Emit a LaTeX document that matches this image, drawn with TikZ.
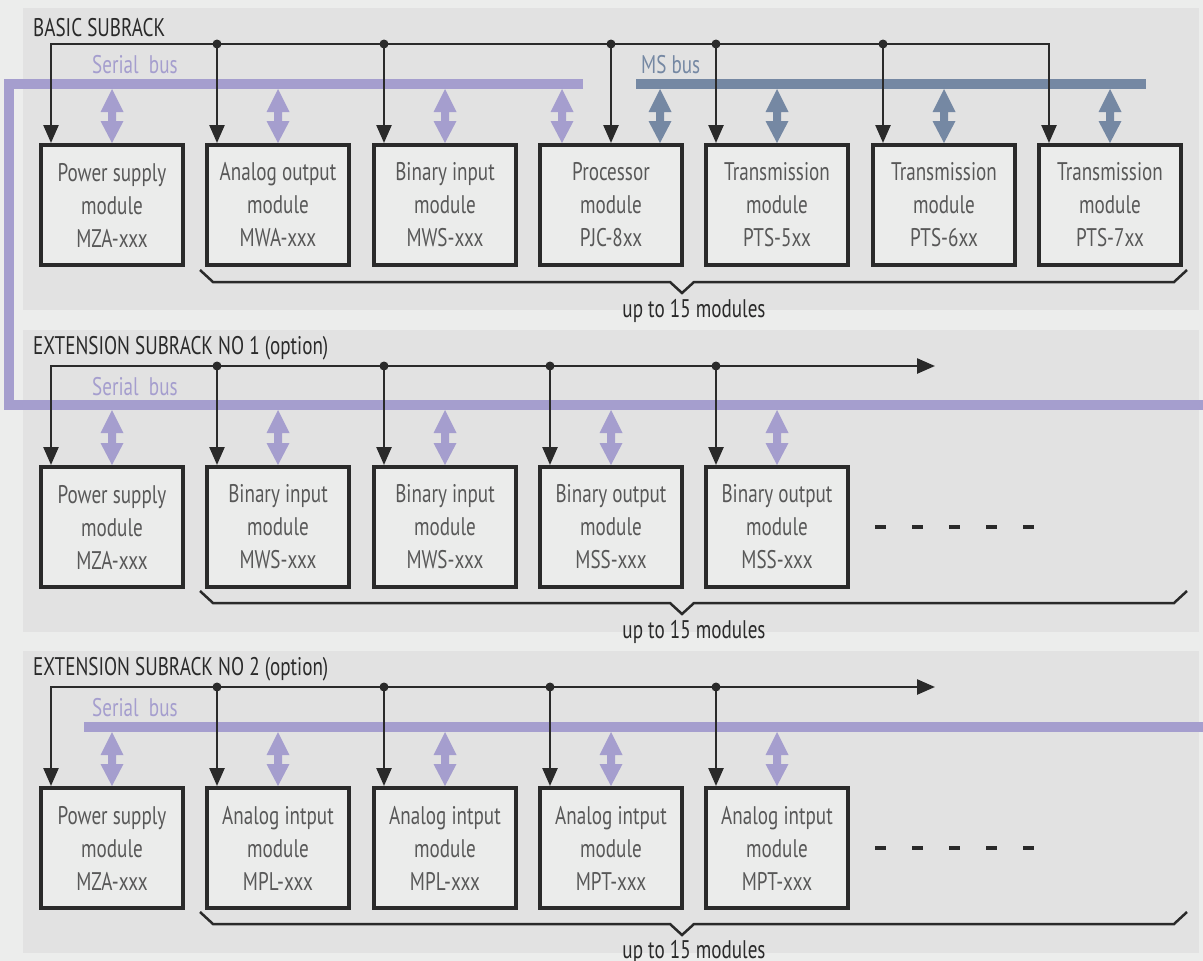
\documentclass[tikz,border=0pt]{standalone}
\usepackage{fontspec}
\setmainfont[FakeStretch=0.75]{PT Sans}
\usetikzlibrary{arrows.meta,calc}
\definecolor{bgc}{HTML}{ECEDEC}
\definecolor{panelc}{HTML}{E2E2E2}
\definecolor{boxc}{HTML}{EBECEB}
\definecolor{ink}{HTML}{2A2A2A}
\definecolor{boxtext}{HTML}{585858}
\definecolor{lav}{HTML}{A59ECE}
\definecolor{slate}{HTML}{7588A3}
\newcommand\modfont{\fontsize{25.5}{33}\selectfont}
\newcommand\dbl[3]{\fill[#3] let \p1=(#1), \p2=(#2) in
  (\x1,\y1) -- (\x1+11.5pt,\y1-23pt) -- (\x1+4pt,\y1-23pt) -- (\x1+4pt,\y2+22pt)
  -- (\x1+11.5pt,\y2+22pt) -- (\x1,\y2) -- (\x1-11.5pt,\y2+22pt) -- (\x1-4pt,\y2+22pt)
  -- (\x1-4pt,\y1-23pt) -- (\x1-11.5pt,\y1-23pt) -- cycle;}
\begin{document}
\begin{tikzpicture}[x=1pt,y=-1pt,
  panel/.style={fill=panelc,draw=none},
  modbox/.style={draw=ink,line width=4pt,fill=boxc,minimum width=142pt,minimum height=120pt,
    inner sep=0pt,align=center,text=boxtext,font=\modfont},
  blk/.style={draw=ink,line width=2.5pt},
  tip/.tip={Triangle[length=18pt,width=15pt]},
  dot/.style={fill=ink},
  bar/.style={line width=10pt},
  brk/.style={draw=ink,line width=2.5pt},
  title/.style={anchor=base west,inner sep=0pt,text=ink,font=\modfont},
  buslabel/.style={anchor=base west,inner sep=0pt,font=\modfont},
  count/.style={anchor=base,inner sep=0pt,text=ink,font=\modfont},
  dashes/.style={draw=ink,line width=4.5pt,dash pattern=on 11pt off 26pt}]
\useasboundingbox (0,0) rectangle (1203,961);
\fill[bgc] (0,0) rectangle (1203,961);
% panels
\fill[panel] (23,8) rectangle (1199,310);
\fill[panel] (23,330) rectangle (1199,632);
\fill[panel] (23,651) rectangle (1199,953);

% ---------- BASIC SUBRACK ----------
\node[title] (t1) at (33,36) {BASIC SUBRACK};
\node[modbox] (b11) at (112,205) {Power supply\\module\\MZA-xxx};
\node[modbox] (b12) at (278,205) {Analog output\\module\\MWA-xxx};
\node[modbox] (b13) at (445,205) {Binary input\\module\\MWS-xxx};
\node[modbox] (b14) at (611,205) {\raisebox{3pt}{\parbox{140pt}{\centering Processor\\module\\PJC-8xx}}};
\node[modbox] (b15) at (777,205) {Transmission\\module\\PTS-5xx};
\node[modbox] (b16) at (944,205) {Transmission\\module\\PTS-6xx};
\node[modbox] (b17) at (1110,205) {Transmission\\module\\PTS-7xx};

% serial bus (basic + extension 1)
\draw[lav,bar] (583,84) coordinate (sbA) -- (9,84) -- (9,405) -- (1203,405) coordinate (sbB);
\node[buslabel,text=lav] (sl1) at (92,73) {Serial\ \ bus};
% MS bus
\draw[slate,bar] (636,84) coordinate (msA) -- (1146,84) coordinate (msB);
\node[buslabel,text=slate] (ml1) at (641,73) {MS bus};

\coordinate (sbb1) at (0,89);
\coordinate (s14) at ($(b14.north)+(-49,0)$);
\coordinate (m14) at ($(b14.north)+(49,0)$);
\dbl{b11.north |- sbb1}{b11.north}{lav}
\dbl{b12.north |- sbb1}{b12.north}{lav}
\dbl{b13.north |- sbb1}{b13.north}{lav}
\dbl{s14 |- sbb1}{s14}{lav}
\dbl{m14 |- sbb1}{m14}{slate}
\dbl{b15.north |- sbb1}{b15.north}{slate}
\dbl{b16.north |- sbb1}{b16.north}{slate}
\dbl{b17.north |- sbb1}{b17.north}{slate}

% supply bus
\coordinate (bus1) at (500,44);
\coordinate (e11) at ($(b11.north)+(-61,0)$);
\coordinate (e12) at ($(b12.north)+(-61,0)$);
\coordinate (e13) at ($(b13.north)+(-61,0)$);
\coordinate (e14) at (b14.north);
\coordinate (e15) at ($(b15.north)+(-61,0)$);
\coordinate (e16) at ($(b16.north)+(-61,0)$);
\coordinate (e17) at ($(b17.north)+(-61,0)$);
\draw[blk,tip-tip] (e11) |- (bus1) -| (e17);
\foreach \e in {e12,e13,e14,e15,e16}{
  \draw[blk,-tip] (\e |- bus1) -- (\e);
  \fill[dot] (\e |- bus1) circle (4.5);
}
\draw[brk] (200,270) -- (213,282) -- (670,282) -- (682,293) -- (694,282) -- (1174,282) -- (1187,270);
\node[count] (c1) at (694,317) {up to 15 modules};

% ---------- EXTENSION SUBRACK NO 1 ----------
\node[title] (t2) at (33,354) {EXTENSION SUBRACK NO 1 (option)};
\node[modbox] (b21) at (112,527) {Power supply\\module\\MZA-xxx};
\node[modbox] (b22) at (278,527) {Binary input\\module\\MWS-xxx};
\node[modbox] (b23) at (445,527) {Binary input\\module\\MWS-xxx};
\node[modbox] (b24) at (611,527) {Binary output\\module\\MSS-xxx};
\node[modbox] (b25) at (777,527) {Binary output\\module\\MSS-xxx};
\node[buslabel,text=lav] (sl2) at (92,395) {Serial\ \ bus};
\coordinate (sbb2) at (0,410);
\foreach \b in {b21,b22,b23,b24,b25}{ \dbl{\b.north |- sbb2}{\b.north}{lav} }
\coordinate (bus2) at (935,366);
\coordinate (e21) at ($(b21.north)+(-61,0)$);
\coordinate (e22) at ($(b22.north)+(-61,0)$);
\coordinate (e23) at ($(b23.north)+(-61,0)$);
\coordinate (e24) at ($(b24.north)+(-61,0)$);
\coordinate (e25) at ($(b25.north)+(-61,0)$);
\draw[blk,tip-tip] (e21) |- (bus2);
\foreach \e in {e22,e23,e24,e25}{
  \draw[blk,-tip] (\e |- bus2) -- (\e);
  \fill[dot] (\e |- bus2) circle (4.5);
}
\draw[dashes] (875,527) -- (1036,527);
\draw[brk] (200,591) -- (213,603) -- (670,603) -- (682,614) -- (694,603) -- (1174,603) -- (1187,591);
\node[count] (c2) at (694,638) {up to 15 modules};

% ---------- EXTENSION SUBRACK NO 2 ----------
\node[title] (t3) at (33,675) {EXTENSION SUBRACK NO 2 (option)};
\node[modbox] (b31) at (112,848) {Power supply\\module\\MZA-xxx};
\node[modbox] (b32) at (278,848) {Analog intput\\module\\MPL-xxx};
\node[modbox] (b33) at (445,848) {Analog intput\\module\\MPL-xxx};
\node[modbox] (b34) at (611,848) {Analog intput\\module\\MPT-xxx};
\node[modbox] (b35) at (777,848) {Analog intput\\module\\MPT-xxx};
\draw[lav,bar] (84,727) coordinate (sbC) -- (1203,727) coordinate (sbD);
\node[buslabel,text=lav] (sl3) at (92,716) {Serial\ \ bus};
\coordinate (sbb3) at (0,732);
\foreach \b in {b31,b32,b33,b34,b35}{ \dbl{\b.north |- sbb3}{\b.north}{lav} }
\coordinate (bus3) at (935,687);
\coordinate (e31) at ($(b31.north)+(-61,0)$);
\coordinate (e32) at ($(b32.north)+(-61,0)$);
\coordinate (e33) at ($(b33.north)+(-61,0)$);
\coordinate (e34) at ($(b34.north)+(-61,0)$);
\coordinate (e35) at ($(b35.north)+(-61,0)$);
\draw[blk,tip-tip] (e31) |- (bus3);
\foreach \e in {e32,e33,e34,e35}{
  \draw[blk,-tip] (\e |- bus3) -- (\e);
  \fill[dot] (\e |- bus3) circle (4.5);
}
\draw[dashes] (875,848) -- (1036,848);
\draw[brk] (200,912) -- (213,924) -- (670,924) -- (682,935) -- (694,924) -- (1174,924) -- (1187,912);
\node[count] (c3) at (694,958) {up to 15 modules};
\end{tikzpicture}
\end{document}
